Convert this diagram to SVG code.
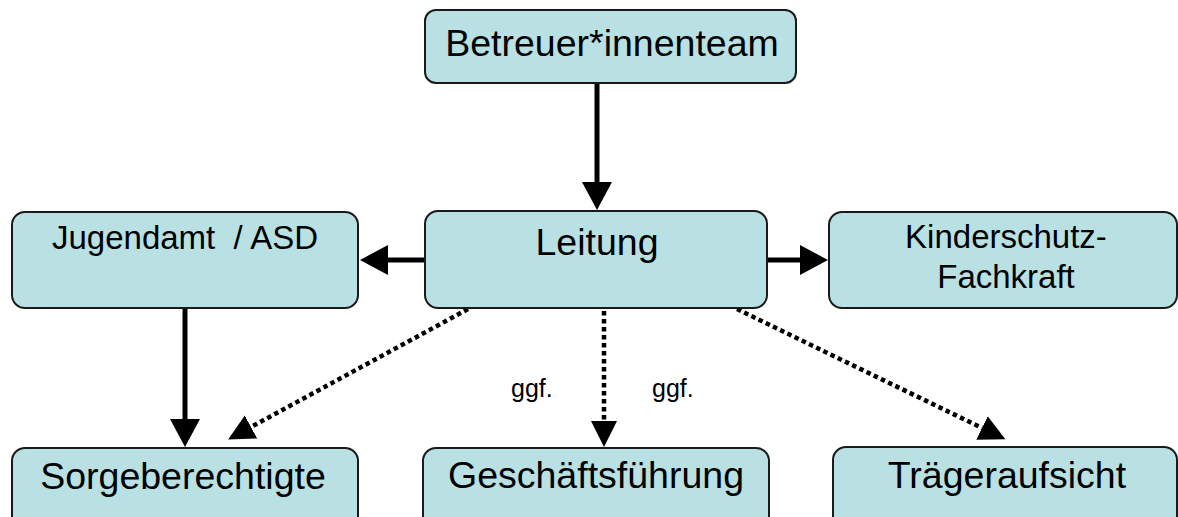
<svg xmlns="http://www.w3.org/2000/svg" width="1178" height="517" viewBox="0 0 1178 517">
<style>
.box{fill:#b9e0e3;stroke:#1a1a1a;stroke-width:2}
.t{font-family:"Liberation Sans",Arial,sans-serif;fill:#000;text-anchor:middle;white-space:pre}
.big{font-size:37.5px}
.mid{font-size:33px}
.sm{font-size:25px;text-anchor:start}
.solid{stroke:#000;stroke-width:5;fill:none}
.dot{stroke:#000;stroke-width:4.5;stroke-dasharray:4.5 3.5;fill:none}
</style>
<defs>
<marker id="ah" markerUnits="userSpaceOnUse" markerWidth="30" markerHeight="30" refX="0" refY="15" orient="auto" viewBox="0 0 30 30">
<path d="M0,0 L28,15 L0,30 z" fill="#000"/>
</marker>
<marker id="ahd" markerUnits="userSpaceOnUse" markerWidth="28" markerHeight="28" refX="0" refY="13" orient="auto" viewBox="0 0 28 26">
<path d="M0,0 L26,13 L0,26 z" fill="#000"/>
</marker>
</defs>
<g id="connectors">
<line class="solid" x1="597" y1="83" x2="597" y2="182" marker-end="url(#ah)"/>
<line class="solid" x1="425" y1="260" x2="388" y2="260" marker-end="url(#ah)"/>
<line class="solid" x1="767" y1="260" x2="800" y2="260" marker-end="url(#ah)"/>
<line class="solid" x1="185" y1="308" x2="185" y2="419" marker-end="url(#ah)"/>
<line class="dot" x1="604" y1="311" x2="604" y2="421" marker-end="url(#ahd)"/>
<line class="dot" x1="468" y1="309" x2="251" y2="427" marker-end="url(#ahd)"/>
<line class="dot" x1="737" y1="309" x2="982" y2="428" marker-end="url(#ahd)"/>
<text class="t sm" x="511" y="397">ggf.</text>
<text class="t sm" x="652" y="397">ggf.</text>
</g>
<g id="betreuer">
<rect class="box" x="425" y="10" width="371" height="73" rx="11"/>
<text class="t big" x="612" y="56">Betreuer*innenteam</text>
</g>
<g id="leitung">
<rect class="box" x="425" y="211" width="342" height="97" rx="13"/>
<text class="t big" x="597" y="255">Leitung</text>
</g>
<g id="jugendamt">
<rect class="box" x="12" y="212" width="346" height="96" rx="13"/>
<text class="t mid" x="185" y="249">Jugendamt  / ASD</text>
</g>
<g id="kinderschutz">
<rect class="box" x="829" y="212" width="348" height="96" rx="13"/>
<text class="t mid" x="1006" y="248">Kinderschutz-</text>
<text class="t mid" x="1006" y="288">Fachkraft</text>
</g>
<g id="sorgeberechtigte">
<rect class="box" x="12" y="448" width="346" height="90" rx="13"/>
<text class="t big" x="183" y="489">Sorgeberechtigte</text>
</g>
<g id="geschaeftsfuehrung">
<rect class="box" x="423" y="448" width="346" height="90" rx="13"/>
<text class="t big" x="596" y="488">Geschäftsführung</text>
</g>
<g id="traegeraufsicht">
<rect class="box" x="833" y="447" width="344" height="90" rx="13"/>
<text class="t big" x="1007" y="488">Trägeraufsicht</text>
</g>
</svg>
